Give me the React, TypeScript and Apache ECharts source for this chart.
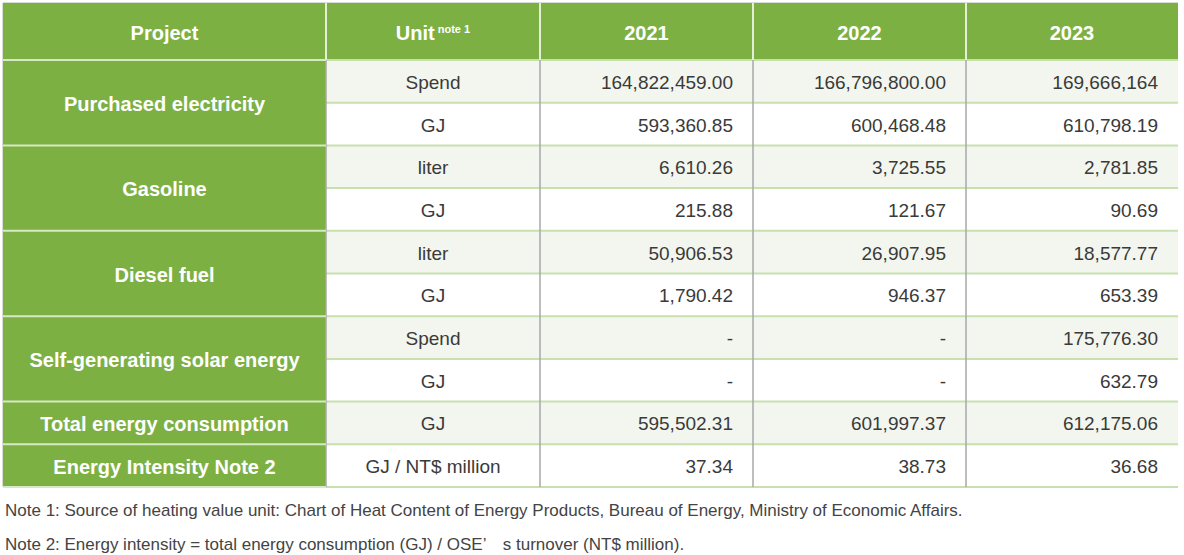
import React, { useEffect, useRef } from "react";
import * as echarts from "echarts";

const headers = ["Project", "Unit", "2021", "2022", "2023"];
const projects = [
  "Purchased electricity",
  "Gasoline",
  "Diesel fuel",
  "Self-generating solar energy",
  "Total energy consumption",
  "Energy Intensity Note 2",
];
const projectRowSpans = [2, 2, 2, 2, 1, 1];
const units = ["Spend", "GJ", "liter", "GJ", "liter", "GJ", "Spend", "GJ", "GJ", "GJ / NT$ million"];
const values2021 = ["164,822,459.00", "593,360.85", "6,610.26", "215.88", "50,906.53", "1,790.42", "-", "-", "595,502.31", "37.34"];
const values2022 = ["166,796,800.00", "600,468.48", "3,725.55", "121.67", "26,907.95", "946.37", "-", "-", "601,997.37", "38.73"];
const values2023 = ["169,666,164", "610,798.19", "2,781.85", "90.69", "18,577.77", "653.39", "175,776.30", "632.79", "612,175.06", "36.68"];
const notes = [
  "Note 1: Source of heating value unit: Chart of Heat Content of Energy Products, Bureau of Energy, Ministry of Economic Affairs.",
  "Note 2: Energy intensity = total energy consumption (GJ) / OSE\u2019\u3000s turnover (NT$ million).",
];

const GREEN = "#7db043";
const LIGHT = "#f3f6ee";
const FONT = "'Liberation Sans', Arial, Helvetica, sans-serif";

export default function App() {
  const ref = useRef<HTMLDivElement>(null);
  useEffect(() => {
    document.body.style.margin = "0";
    const chart = echarts.init(ref.current!, null, { renderer: "svg" });
    const colX = [3, 326, 540, 753, 966, 1178];
    const top = 3;
    const headBottom = 60;
    const rowH = 42.7;
    const nRows = units.length;
    const rowY = Array.from({ length: nRows + 1 }, (_, i) => headBottom + i * rowH);
    const tableBottom = rowY[nRows];
    const els: any[] = [];

    els.push({ type: "rect", shape: { x: colX[0], y: top, width: colX[5] - colX[0], height: headBottom - top }, style: { fill: GREEN } });
    els.push({ type: "rect", shape: { x: colX[0], y: headBottom, width: colX[1] - colX[0], height: tableBottom - headBottom }, style: { fill: GREEN } });
    els.push({ type: "line", shape: { x1: colX[0], y1: top - 0.5, x2: colX[5], y2: top - 0.5 }, style: { stroke: "#d8dcd2", lineWidth: 1 } });
    els.push({ type: "line", shape: { x1: colX[0] - 0.5, y1: top, x2: colX[0] - 0.5, y2: tableBottom }, style: { stroke: "#d8dcd2", lineWidth: 1 } });

    for (let i = 0; i < nRows; i++) {
      const shaded = i % 2 === 0 && i < nRows - 1;
      els.push({
        type: "rect",
        shape: { x: colX[1], y: rowY[i], width: colX[5] - colX[1], height: rowH },
        style: { fill: shaded ? LIGHT : "#ffffff" },
      });
    }
    for (let i = 0; i <= nRows; i++) {
      els.push({
        type: "line",
        shape: { x1: colX[1], y1: rowY[i], x2: colX[5], y2: rowY[i] },
        style: { stroke: "#c8dfae", lineWidth: 2 },
      });
    }
    for (let c = 1; c < 5; c++) {
      els.push({ type: "line", shape: { x1: colX[c], y1: top, x2: colX[c], y2: headBottom }, style: { stroke: "#e4efd8", lineWidth: 2 } });
      els.push({ type: "line", shape: { x1: colX[c], y1: headBottom, x2: colX[c], y2: tableBottom }, style: { stroke: "#a8a8a8", lineWidth: 1.5 } });
    }
    let r = 0;
    els.push({ type: "line", shape: { x1: colX[0], y1: headBottom, x2: colX[1], y2: headBottom }, style: { stroke: "#d6e8c4", lineWidth: 2 } });
    projects.forEach((p, k) => {
      const span = projectRowSpans[k];
      const y0 = rowY[r];
      const y1 = rowY[r + span];
      els.push({ type: "line", shape: { x1: colX[0], y1: y1, x2: colX[1], y2: y1 }, style: { stroke: "#d6e8c4", lineWidth: 2 } });
      els.push({
        type: "text",
        x: (colX[0] + colX[1]) / 2,
        y: (y0 + y1) / 2 + 1,
        style: { text: p, fill: "#ffffff", fontFamily: FONT, fontSize: 20, fontWeight: "bold", align: "center", verticalAlign: "middle" },
      });
      r += span;
    });

    headers.forEach((h, c) => {
      const cx = (colX[c] + colX[c + 1]) / 2;
      if (h === "Unit") {
        els.push({
          type: "text",
          x: cx,
          y: (top + headBottom) / 2 + 1,
          style: {
            text: "{b|Unit}{s| note 1}",
            align: "center",
            verticalAlign: "middle",
            rich: {
              b: { fill: "#ffffff", fontFamily: FONT, fontSize: 20, fontWeight: "bold", lineHeight: 24 },
              s: { fill: "#ffffff", fontFamily: FONT, fontSize: 11, fontWeight: "bold", lineHeight: 24, verticalAlign: "middle", padding: [0, 0, 7, 0] },
            },
          },
        });
      } else {
        els.push({
          type: "text",
          x: cx,
          y: (top + headBottom) / 2 + 1,
          style: { text: h, fill: "#ffffff", fontFamily: FONT, fontSize: 20, fontWeight: "bold", align: "center", verticalAlign: "middle" },
        });
      }
    });

    const yearValues = [values2021, values2022, values2023];
    for (let i = 0; i < nRows; i++) {
      const cy = rowY[i] + rowH / 2 + 1;
      els.push({
        type: "text",
        x: (colX[1] + colX[2]) / 2,
        y: cy,
        style: { text: units[i], fill: "#3a3a3a", fontFamily: FONT, fontSize: 19, align: "center", verticalAlign: "middle" },
      });
      yearValues.forEach((vals, k) => {
        els.push({
          type: "text",
          x: colX[k + 3] - 20,
          y: cy,
          style: { text: vals[i], fill: "#3a3a3a", fontFamily: FONT, fontSize: 19, align: "right", verticalAlign: "middle" },
        });
      });
    }

    notes.forEach((n, k) => {
      els.push({
        type: "text",
        x: 5,
        y: 510 + k * 34,
        style: { text: n, fill: "#444444", fontFamily: FONT, fontSize: 17, align: "left", verticalAlign: "middle" },
      });
    });

    chart.setOption({ animation: false, graphic: { elements: els } });
    return () => chart.dispose();
  }, []);
  return <div ref={ref} style={{ width: 1184, height: 555 }} />;
}
